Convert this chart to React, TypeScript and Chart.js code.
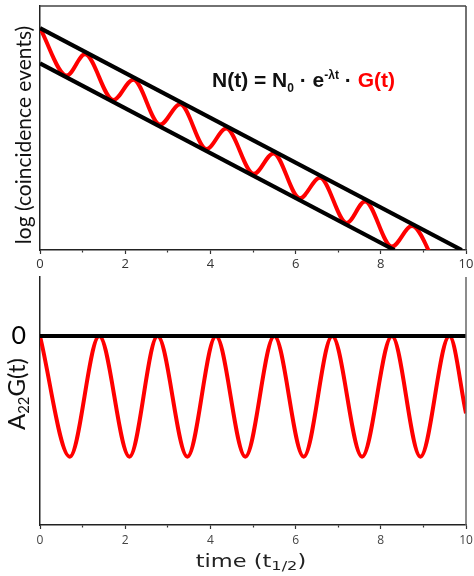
import React, { useEffect, useRef } from "react";
import { Chart, registerables } from "chart.js";

Chart.register(...registerables);

// time axis (half-lives)
const timeTicks = [0, 1, 2, 3, 4, 5, 6, 7, 8, 9, 10];

// log-count axis range, upper panel
const logMin = 0;
const logMax = 10;

// undisturbed exponential decay, log scale (upper envelope)
const upperT = [0, 9.9];
const upperV = [9.09, 0];

// lower envelope
const lowerT = [0, 8.32];
const lowerV = [7.65, 0];

// coincidence counts modulated by G(t): turning points
const countsT = [0, 0.627, 1.056, 1.72, 2.19, 2.82, 3.29, 3.91, 4.37, 5.02, 5.48, 6.1, 6.57, 7.2, 7.63, 8.26, 8.73, 9.35];
const countsV = [9.09, 7.15, 8.02, 6.15, 6.98, 5.14, 5.97, 4.14, 4.98, 3.12, 3.96, 2.12, 2.96, 1.11, 1.99, 0.14, 0.98, -0.86];

// A22·G(t) range, lower panel
const gMin = -1.566;
const gMax = 0.49;
const gTicks = [0];

// A22·G(t): turning points
const gT = [0, 0.7, 1.39, 2.1, 2.76, 3.46, 4.13, 4.82, 5.5, 6.19, 6.86, 7.56, 8.26, 8.93, 9.61, 10];
const gV = [0, -1, 0, -1, 0, -1, 0, -1, 0, -1, 0, -1, 0, -1, 0, -0.64];

// zero reference
const zeroT = [0, 10];
const zeroV = [0, 0];

const RED = "#ff0000";
const BLACK = "#000000";

const pts = (xs: number[], ys: number[]) => xs.map((x, i) => ({ x, y: ys[i] }));

// draws the remaining sides of the plot frame
const framePlugin = {
  id: "frame",
  afterDatasetsDraw(chart: any, _args: any, opts: any) {
    const { ctx, chartArea: a } = chart;
    ctx.save();
    ctx.strokeStyle = opts.color || "#555";
    ctx.lineWidth = opts.width || 1.5;
    ctx.beginPath();
    if (opts.top) {
      ctx.moveTo(a.left, a.top);
      ctx.lineTo(a.right, a.top);
    }
    ctx.moveTo(a.right, a.top);
    ctx.lineTo(a.right, a.bottom);
    ctx.stroke();
    ctx.restore();
  },
};

function timeAxis(fontSize: number, color: string, padding: number, height: number) {
  return {
    type: "linear" as const,
    min: 0,
    max: 10,
    afterBuildTicks: (scale: any) => {
      scale.ticks = timeTicks.map((v) => ({ value: v }));
    },
    afterFit: (scale: any) => {
      scale.height = height;
      scale.paddingLeft = 0;
      scale.paddingRight = 0;
    },
    ticks: {
      autoSkip: false,
      maxRotation: 0,
      padding,
      color,
      font: { family: "'Open Sans', 'DejaVu Sans', sans-serif", size: fontSize },
      callback: (v: any) => (Number(v) % 2 === 0 ? String(v) : ""),
    },
    grid: {
      drawOnChartArea: false,
      drawTicks: true,
      tickLength: 4,
      tickColor: "#333",
      tickWidth: 1.2,
      tickBorderDash: (c: any) => (c.tick && Number(c.tick.value) % 2 === 1 ? [2, 20] : []),
    },
    border: { display: true, color: "#222", width: 1.5 },
  };
}

function lineDs(data: any[], color: string, width: number, smooth: boolean) {
  return {
    data,
    borderColor: color,
    borderWidth: width,
    pointRadius: 0,
    fill: false,
    clip: 0,
    cubicInterpolationMode: smooth ? ("monotone" as const) : ("default" as const),
    tension: 0,
  };
}

function DecayPanel() {
  const ref = useRef<HTMLCanvasElement | null>(null);
  useEffect(() => {
    if (!ref.current) return;
    const chart = new Chart(ref.current, {
      type: "line",
      data: {
        datasets: [
          lineDs(pts(upperT, upperV), BLACK, 4.2, false),
          lineDs(pts(lowerT, lowerV), BLACK, 4.2, false),
          lineDs(pts(countsT, countsV), RED, 4, true),
        ] as any,
      },
      options: {
        animation: false,
        responsive: true,
        maintainAspectRatio: false,
        layout: { padding: { left: 0, top: 6, right: 8, bottom: 0 } },
        plugins: {
          legend: { display: false },
          tooltip: { enabled: false },
          frame: { top: true, color: "#444", width: 1.5 },
        } as any,
        scales: {
          x: timeAxis(13, "#333", 2, 25),
          y: {
            type: "linear",
            min: logMin,
            max: logMax,
            afterFit: (scale: any) => {
              scale.width = 40;
              scale.paddingTop = 0;
              scale.paddingBottom = 0;
            },
            ticks: { display: false },
            grid: { drawOnChartArea: false, drawTicks: false },
            border: { display: true, color: "#222", width: 1.5 },
          },
        },
      },
      plugins: [framePlugin],
    });
    return () => chart.destroy();
  }, []);
  return <canvas ref={ref} style={{ display: "block", width: "100%", height: "100%" }} />;
}

function CorrelationPanel() {
  const ref = useRef<HTMLCanvasElement | null>(null);
  useEffect(() => {
    if (!ref.current) return;
    const chart = new Chart(ref.current, {
      type: "line",
      data: {
        datasets: [
          lineDs(pts(zeroT, zeroV), BLACK, 4, false),
          lineDs(pts(gT, gV), RED, 4, true),
        ] as any,
      },
      options: {
        animation: false,
        responsive: true,
        maintainAspectRatio: false,
        layout: { padding: { left: 0, top: 2, right: 8, bottom: 0 } },
        plugins: {
          legend: { display: false },
          tooltip: { enabled: false },
          frame: { top: false, color: "#666", width: 1.5 },
        } as any,
        scales: {
          x: timeAxis(12, "#444", 4, 51),
          y: {
            type: "linear",
            min: gMin,
            max: gMax,
            afterFit: (scale: any) => {
              scale.width = 40;
              scale.paddingTop = 0;
              scale.paddingBottom = 0;
            },
            afterBuildTicks: (scale: any) => {
              scale.ticks = gTicks.map((v) => ({ value: v }));
            },
            ticks: {
              padding: 14,
              color: "#000",
              font: { family: "Lato, 'DejaVu Sans', sans-serif", size: 25 },
              callback: (v: any) => String(v),
            },
            grid: { drawOnChartArea: false, drawTicks: false },
            border: { display: true, color: "#222", width: 1.5 },
          },
        },
      },
      plugins: [framePlugin],
    });
    return () => chart.destroy();
  }, []);
  return <canvas ref={ref} style={{ display: "block", width: "100%", height: "100%" }} />;
}

const rotated = (cx: number, cy: number, size: number, family: string): React.CSSProperties => ({
  position: "absolute",
  left: cx,
  top: cy,
  transform: "translate(-50%, -50%) rotate(-90deg)",
  fontFamily: family,
  fontSize: size,
  lineHeight: `${size}px`,
  whiteSpace: "nowrap",
  color: "#111",
});

export default function App() {
  return (
    <div style={{ position: "absolute", left: 0, top: 0, width: 474, height: 576, background: "#fff", overflow: "hidden" }}>
      <div style={{ position: "absolute", left: 0, top: 0, width: 474, height: 275 }}>
        <DecayPanel />
      </div>
      <div style={{ position: "absolute", left: 0, top: 275, width: 474, height: 301 }}>
        <CorrelationPanel />
      </div>

      <div style={rotated(22, 135, 21, "Lato, 'DejaVu Sans', sans-serif")}>log (coincidence events)</div>

      <div style={rotated(16, 394, 24, "Lato, 'DejaVu Sans', sans-serif")}>
        A<sub style={{ fontSize: "0.62em", verticalAlign: "-0.25em", lineHeight: 0 }}>22</sub>G(t)
      </div>

      <div
        style={{
          position: "absolute",
          left: 251,
          top: 552,
          transform: "translateX(-50%) scaleX(1.25)",
          fontFamily: "'DejaVu Sans', sans-serif",
          fontSize: 18,
          lineHeight: "18px",
          whiteSpace: "nowrap",
          color: "#222",
        }}
      >
        time (t<sub style={{ fontSize: "0.72em", verticalAlign: "-0.22em", lineHeight: 0 }}>1/2</sub>)
      </div>

      <div
        style={{
          position: "absolute",
          left: 212,
          top: 69,
          fontFamily: "'Liberation Sans', Arial, sans-serif",
          fontWeight: "bold",
          fontSize: 21,
          lineHeight: "21px",
          whiteSpace: "nowrap",
          color: "#111",
        }}
      >
        N(t) = N<sub style={{ fontSize: 12, verticalAlign: -5, lineHeight: 0 }}>0</sub> · e
        <sup style={{ fontSize: 12, verticalAlign: 8, lineHeight: 0 }}>-λt</sup> ·{" "}
        <span style={{ color: RED }}>G(t)</span>
      </div>
    </div>
  );
}
